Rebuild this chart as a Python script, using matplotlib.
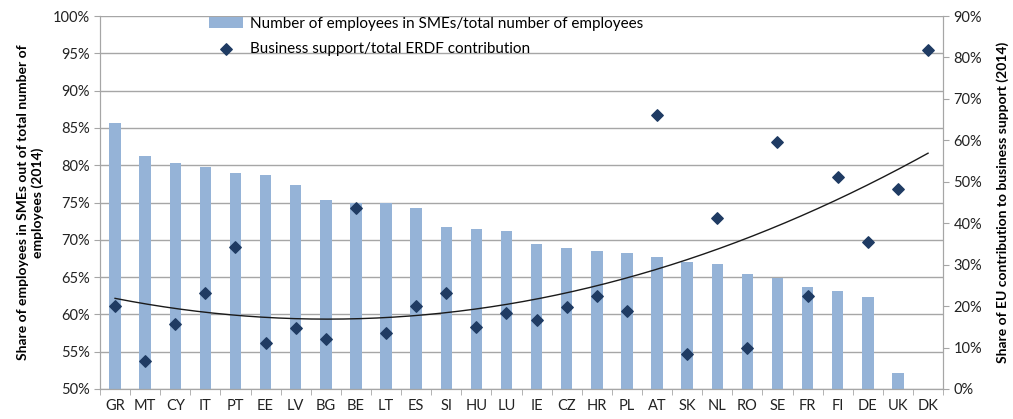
import numpy as np
import matplotlib.pyplot as plt
from matplotlib.ticker import FuncFormatter, MultipleLocator

countries = ["GR", "MT", "CY", "IT", "PT", "EE", "LV", "BG", "BE", "LT", "ES", "SI", "HU", "LU",
             "IE", "CZ", "HR", "PL", "AT", "SK", "NL", "RO", "SE", "FR", "FI", "DE", "UK", "DK"]

# share of employees in SMEs (%), left axis
sme_share = [85.6, 81.3, 80.3, 79.8, 78.9, 78.7, 77.3, 75.4, 74.9, 75.0, 74.3, 71.7, 71.5, 71.2,
             69.4, 68.9, 68.5, 68.2, 67.7, 67.0, 66.7, 65.4, 64.9, 63.7, 63.1, 62.3, 52.1, 50.0]

# business support / total ERDF contribution (%), right axis
erdf_share = [20.0, 6.8, 15.7, 23.1, 34.2, 11.2, 14.8, 12.0, 43.6, 13.4, 20.0, 23.1, 15.0, 18.4,
              16.7, 19.7, 22.4, 18.7, 66.1, 8.4, 41.2, 9.8, 59.5, 22.4, 51.2, 35.5, 48.3, 81.8]

bar_color = "#95B3D7"
dot_color = "#1F3B63"
grid_color = "#A6A6A6"

plt.rcParams["font.family"] = ["Lato", "DejaVu Sans"]

fig = plt.figure(figsize=(10.13, 4.19), dpi=100)
ax = fig.add_axes([0.0987, 0.0716, 0.8323, 0.8902])
ax2 = ax.twinx()

x = np.arange(len(countries))
ax.bar(x, np.array(sme_share) - 50, bottom=50, width=0.38, color=bar_color, zorder=2,
       label="Number of employees in SMEs/total number of employees")
ax.set_ylim(50, 100)
ax.set_xlim(-0.5, len(countries) - 0.5)
ax.yaxis.set_major_locator(MultipleLocator(5))
ax.yaxis.set_major_formatter(FuncFormatter(lambda v, p: f"{v:.0f}%"))
ax.grid(axis="y", color=grid_color, linewidth=1.0, zorder=0)
ax.set_axisbelow(True)

# excel style polynomial trendline (order 2) on the ERDF series
coef = np.polyfit(x, erdf_share, 2)
xs = np.linspace(0, len(countries) - 1, 200)
ax2.plot(xs, np.polyval(coef, xs), color="#1a1a1a", linewidth=1.0, zorder=3)
ax2.scatter(x, erdf_share, marker="D", s=34, color=dot_color, zorder=4,
            label="Business support/total ERDF contribution")
ax2.set_ylim(0, 90)
ax2.yaxis.set_major_locator(MultipleLocator(10))
ax2.yaxis.set_major_formatter(FuncFormatter(lambda v, p: f"{v:.0f}%"))

# category ticks between bars
ax.set_xticks(x)
ax.set_xticklabels(countries, fontsize=10.5, color="#222222")
ax.set_xticks(np.arange(-0.5, len(countries)), minor=True)
ax.tick_params(axis="x", which="major", length=0, pad=7)
ax.tick_params(axis="x", which="minor", length=4, color=grid_color)
ax.tick_params(axis="y", length=4, color=grid_color, labelsize=10.5, labelcolor="#222222")
ax2.tick_params(axis="y", length=4, color=grid_color, labelsize=10.5, labelcolor="#222222")

for a in (ax, ax2):
    a.spines["top"].set_visible(False)
    for s in ("left", "right", "bottom"):
        a.spines[s].set_color(grid_color)

ax.set_ylabel("Share of employees in SMEs out of total number of\nemployees (2014)",
              fontsize=10, fontweight="bold", labelpad=6)
ax2.set_ylabel("Share of EU contribution to business support (2014)",
               fontsize=10, fontweight="bold", labelpad=10)

h1, l1 = ax.get_legend_handles_labels()
h2, l2 = ax2.get_legend_handles_labels()
ax2.legend(h1 + h2, l1 + l2, loc="upper left", bbox_to_anchor=(0.115, 1.03), frameon=False,
           fontsize=11, handlelength=2.2, handletextpad=0.45, borderpad=0.3, labelspacing=0.7)

fig.savefig("out.png", dpi=100)
